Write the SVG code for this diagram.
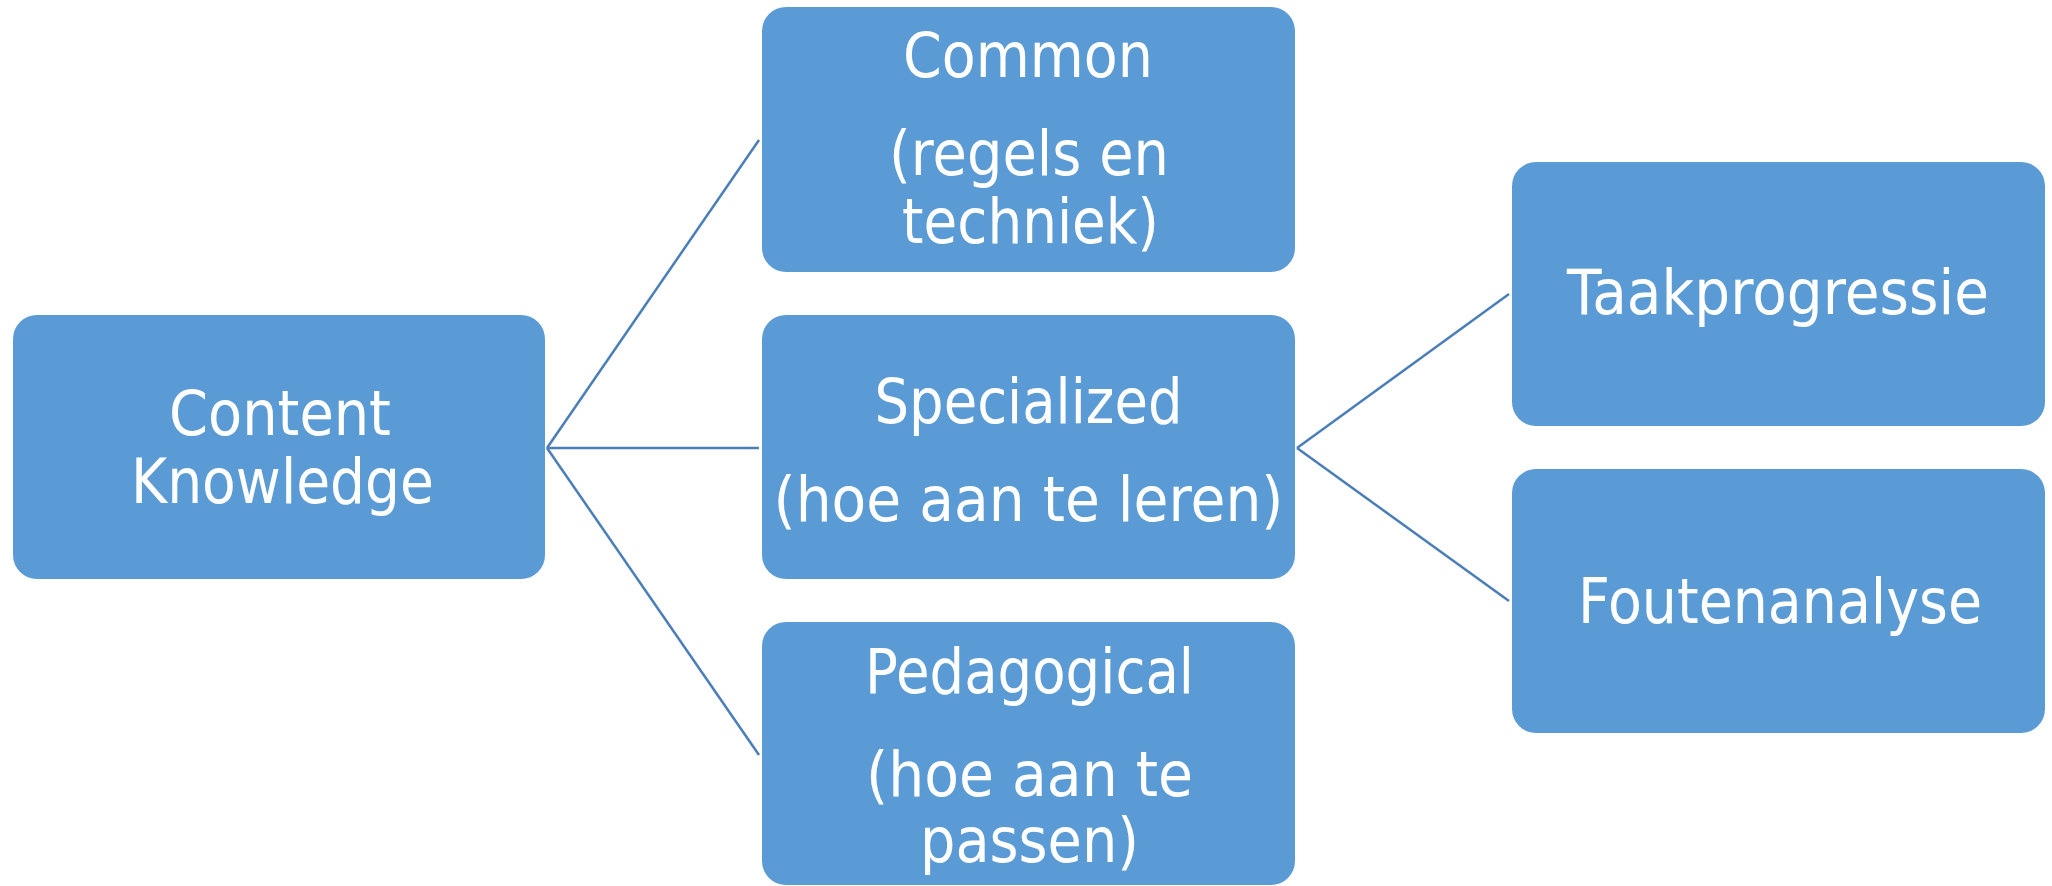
<svg xmlns="http://www.w3.org/2000/svg" width="2052" height="886" viewBox="0 0 2052 886">
<style>
.box{fill:#5B9BD5;}
.lbl{fill:#FFFFFF;font-family:"DejaVu Sans","Liberation Sans",sans-serif;font-size:63px;text-anchor:middle;}
.con{stroke:#4A7EB8;stroke-width:2.5;fill:none;}
</style>
<rect width="2052" height="886" fill="#FFFFFF"/>
<g id="connectors">
<line class="con" x1="547" y1="448" x2="759" y2="140"/>
<line class="con" x1="547" y1="448" x2="759" y2="448"/>
<line class="con" x1="547" y1="448" x2="759" y2="755"/>
<line class="con" x1="1297" y1="448" x2="1509" y2="294"/>
<line class="con" x1="1297" y1="448" x2="1509" y2="601"/>
</g>
<g id="content-knowledge">
<rect class="box" x="13" y="315" width="532" height="264" rx="24"/>
<text class="lbl" x="280" y="435" textLength="222" lengthAdjust="spacingAndGlyphs">Content</text>
<text class="lbl" x="282.5" y="503" textLength="303" lengthAdjust="spacingAndGlyphs">Knowledge</text>
</g>
<g id="common">
<rect class="box" x="762" y="7" width="533" height="265" rx="24"/>
<text class="lbl" x="1028" y="77" textLength="250" lengthAdjust="spacingAndGlyphs">Common</text>
<text class="lbl" x="1029" y="175" textLength="280" lengthAdjust="spacingAndGlyphs">(regels en</text>
<text class="lbl" x="1030.5" y="243" textLength="257" lengthAdjust="spacingAndGlyphs">techniek)</text>
</g>
<g id="specialized">
<rect class="box" x="762" y="315" width="533" height="264" rx="24"/>
<text class="lbl" x="1028.5" y="423" textLength="308" lengthAdjust="spacingAndGlyphs">Specialized</text>
<text class="lbl" x="1028.5" y="521" textLength="510" lengthAdjust="spacingAndGlyphs">(hoe aan te leren)</text>
</g>
<g id="pedagogical">
<rect class="box" x="762" y="622" width="533" height="263" rx="24"/>
<text class="lbl" x="1029.5" y="693" textLength="329" lengthAdjust="spacingAndGlyphs">Pedagogical</text>
<text class="lbl" x="1029.5" y="796" textLength="327" lengthAdjust="spacingAndGlyphs">(hoe aan te</text>
<text class="lbl" x="1029.5" y="862" textLength="219" lengthAdjust="spacingAndGlyphs">passen)</text>
</g>
<g id="taakprogressie">
<rect class="box" x="1512" y="162" width="533" height="264" rx="24"/>
<text class="lbl" x="1778" y="314" textLength="422" lengthAdjust="spacingAndGlyphs">Taakprogressie</text>
</g>
<g id="foutenanalyse">
<rect class="box" x="1512" y="469" width="533" height="264" rx="24"/>
<text class="lbl" x="1780" y="623" textLength="404" lengthAdjust="spacingAndGlyphs">Foutenanalyse</text>
</g>
</svg>
